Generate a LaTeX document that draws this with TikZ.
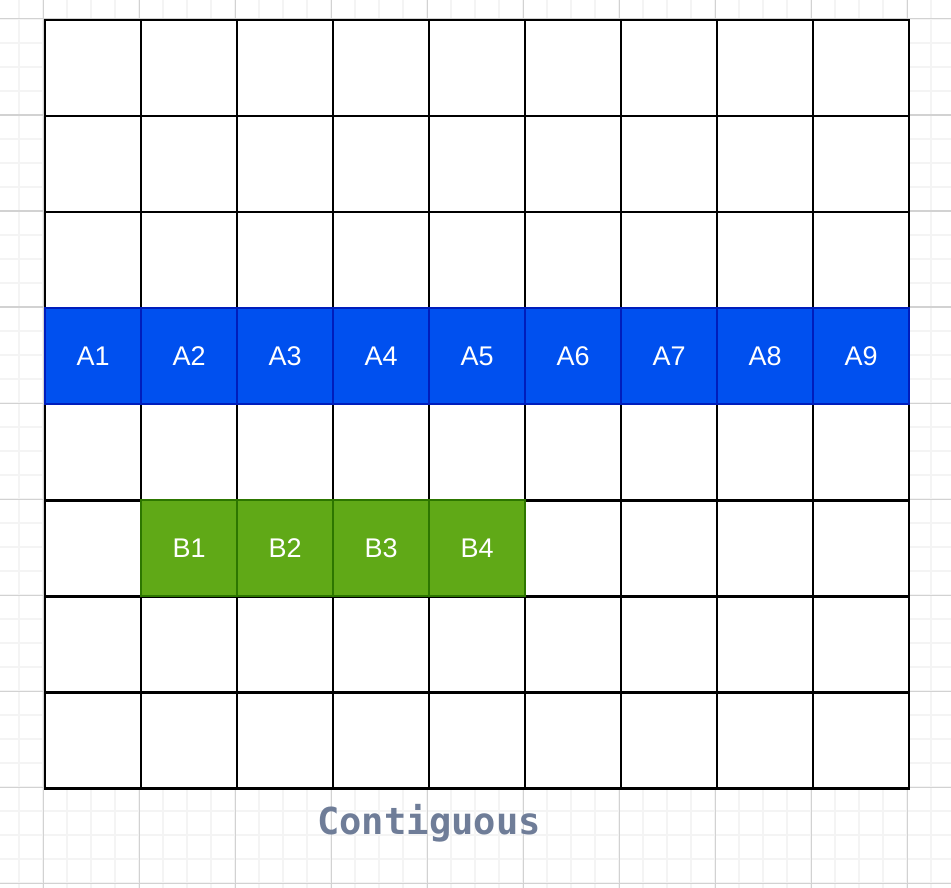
\documentclass[tikz,border=0pt]{standalone}
\usepackage{fontspec}
\setmainfont{Liberation Sans}
\newfontfamily\capfont{DejaVu Sans Mono}
\usetikzlibrary{
  positioning,
  calc
}
\definecolor{ABlue}{HTML}{0050EF}
\definecolor{ABlueEdge}{HTML}{001DBC}
\definecolor{BGreen}{HTML}{60A917}
\definecolor{BGreenEdge}{HTML}{2D7600}
\definecolor{CapGray}{HTML}{6F7D98}
\definecolor{MinorGrid}{HTML}{F4F4F4}
\definecolor{MajorGrid}{HTML}{D2D2D2}
\tikzset{
  % Empty memory cell
  cell/.style={
    rectangle, draw=black, fill=white,
    line width=0.85pt, minimum size=1cm,
    inner sep=0pt, outer sep=0pt
  },
  % Allocated block cell
  blk/.style={
    rectangle, draw=#1Edge, fill=#1,
    line width=0.5pt, minimum size=1cm,
    inner sep=0pt, outer sep=0pt,
    text=white, font=\fontsize{8}{9}\selectfont
  },
  % Caption under the grid
  caption/.style={font=\capfont\bfseries\fontsize{11}{13}\selectfont, text=CapGray}
}

\begin{document}
\begin{tikzpicture}

  \useasboundingbox (0,0) rectangle (9.906,9.24);

  % Paper grid
  \begin{scope}
    \clip (0,0) rectangle (9.906,9.24);
    \draw[MinorGrid, line width=0.5pt, step=0.25cm, xshift=0.448cm, yshift=0.042cm] (-1,-1) grid (11,11);
    \draw[MajorGrid, line width=0.3pt, step=1cm, xshift=0.448cm, yshift=0.042cm] (-1,-1) grid (11,11);
  \end{scope}

  % Memory: 8 rows x 9 columns
  \foreach \r in {1,...,8}
    \foreach \c in {1,...,9}
      \node[cell] (cell-\r-\c) at (\c-0.5+0.469, 9.031-\r+0.5) {};

  % Block A fills row 4
  \foreach \c in {1,...,9}
    \node[blk=ABlue] (a\c) at (cell-4-\c) {A\c};

  % Block B in row 6
  \foreach \c/\n in {2/1,3/2,4/3,5/4}
    \node[blk=BGreen] (b\n) at (cell-6-\c) {B\n};

  \node[caption] (title) at ($(cell-8-4.south east)+(0,-0.37)$) {Contiguous};

\end{tikzpicture}
\end{document}
